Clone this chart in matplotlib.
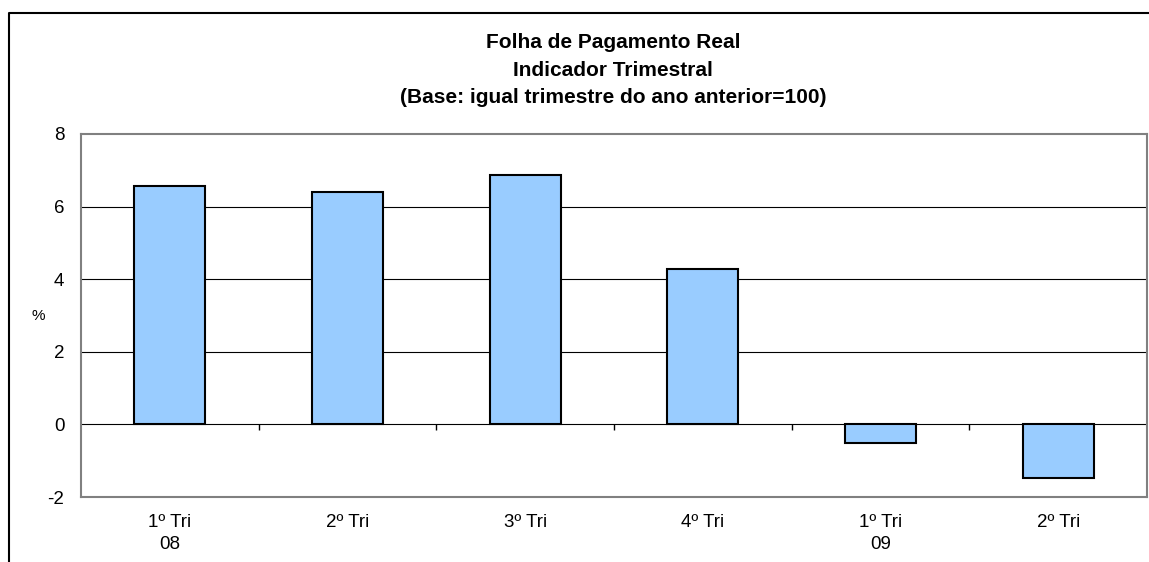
import numpy as np
import matplotlib.pyplot as plt
from matplotlib.lines import Line2D

plt.rcParams['font.family'] = ['Liberation Sans', 'DejaVu Sans']

# Dados
trimestres = ["1º Tri\n08", "2º Tri", "3º Tri", "4º Tri", "1º Tri\n09", "2º Tri"]
variacao = [6.58, 6.41, 6.87, 4.27, -0.51, -1.48]
yticks = [-2, 0, 2, 4, 6, 8]

titulo = ("Folha de Pagamento Real\nIndicador Trimestral\n"
          "(Base: igual trimestre do ano anterior=100)")

fig = plt.figure(figsize=(11.49, 5.62), dpi=100)
ax = fig.add_axes([81/1149, 1-497/562, 1066/1149, 363/562])

x = np.arange(len(variacao))
ax.bar(x, variacao, width=0.4, color='#99CCFF', edgecolor='black',
       linewidth=1.5, zorder=3)

ax.set_xlim(-0.5, len(variacao) - 0.5)
ax.set_ylim(yticks[0], yticks[-1])
ax.set_yticks(yticks)
ax.set_yticklabels([str(v) for v in yticks], fontsize=13.5)
ax.tick_params(axis='y', length=0, pad=12)

ax.set_xticks(x)
ax.set_xticklabels(trimestres, fontsize=13.5, linespacing=1.4)
ax.tick_params(axis='x', length=0, pad=12)

# gridlines
for v in yticks[1:-1]:
    ax.axhline(v, color='black', linewidth=0.8, zorder=1)

for s in ax.spines.values():
    s.set_color('#808080')
    s.set_linewidth(1.5)

# marcas entre categorias sobre a linha do zero
limites = np.arange(0.5, len(variacao) - 0.5, 1.0)
ax.vlines(limites, -0.15, 0, color='black', linewidth=1, zorder=2)

ax.text(-0.04, 0.5, '%', transform=ax.transAxes, fontsize=11,
        ha='center', va='center')

fig.text(613/1149, 1-70/562, titulo, ha='center', va='center',
         fontsize=15, fontweight='bold', linespacing=1.55)

# moldura externa
fig.add_artist(Line2D([9/1149, 9/1149, 1.0], [0, 1-13/562, 1-13/562],
                      transform=fig.transFigure, color='black', linewidth=1.5))

fig.savefig('out.png', dpi=100)
